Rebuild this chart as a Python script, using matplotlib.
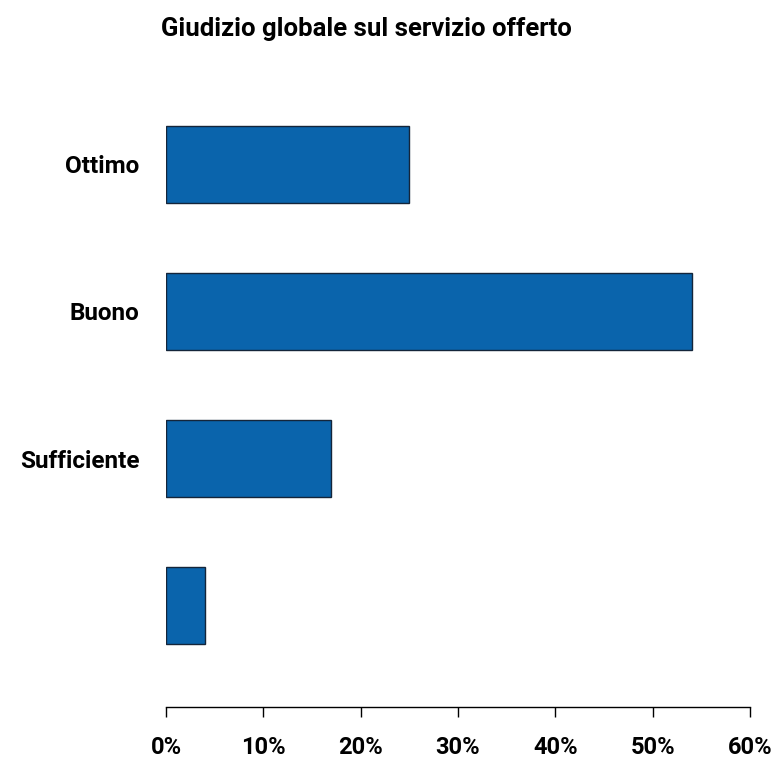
import matplotlib.pyplot as plt
from matplotlib.ticker import PercentFormatter

categories = ["Ottimo", "Buono", "Sufficiente", ""]
values = [25, 54, 17, 4]
xticks = [0, 10, 20, 30, 40, 50, 60]

plt.rcParams['font.family'] = ['Roboto', 'DejaVu Sans']

fig = plt.figure(figsize=(7.79, 7.58), dpi=100)
ax = fig.add_axes([0.2131, 0.0673, 0.7497, 0.8496])

pos = list(range(len(categories)))
ax.barh(pos, values, height=0.52, color="#0a64ac", edgecolor="#14253a", linewidth=1)

ax.set_ylim(3.69, -0.69)
ax.set_xlim(0, 60)
ax.set_xticks(xticks)
ax.xaxis.set_major_formatter(PercentFormatter(decimals=0))
ax.set_yticks(pos)
ax.set_yticklabels(categories)

for s in ["top", "right", "left"]:
    ax.spines[s].set_visible(False)
ax.spines["bottom"].set_linewidth(1)
ax.tick_params(axis="y", length=0, pad=19, labelsize=17.5)
ax.tick_params(axis="x", length=7, width=1, pad=14, labelsize=17)
for lab in ax.get_xticklabels() + ax.get_yticklabels():
    lab.set_fontweight("bold")

fig.text(0.471, 0.962, "Giudizio globale sul servizio offerto", ha="center", va="center",
         fontsize=18.5, fontweight="bold")

fig.savefig("out.png", dpi=100)
